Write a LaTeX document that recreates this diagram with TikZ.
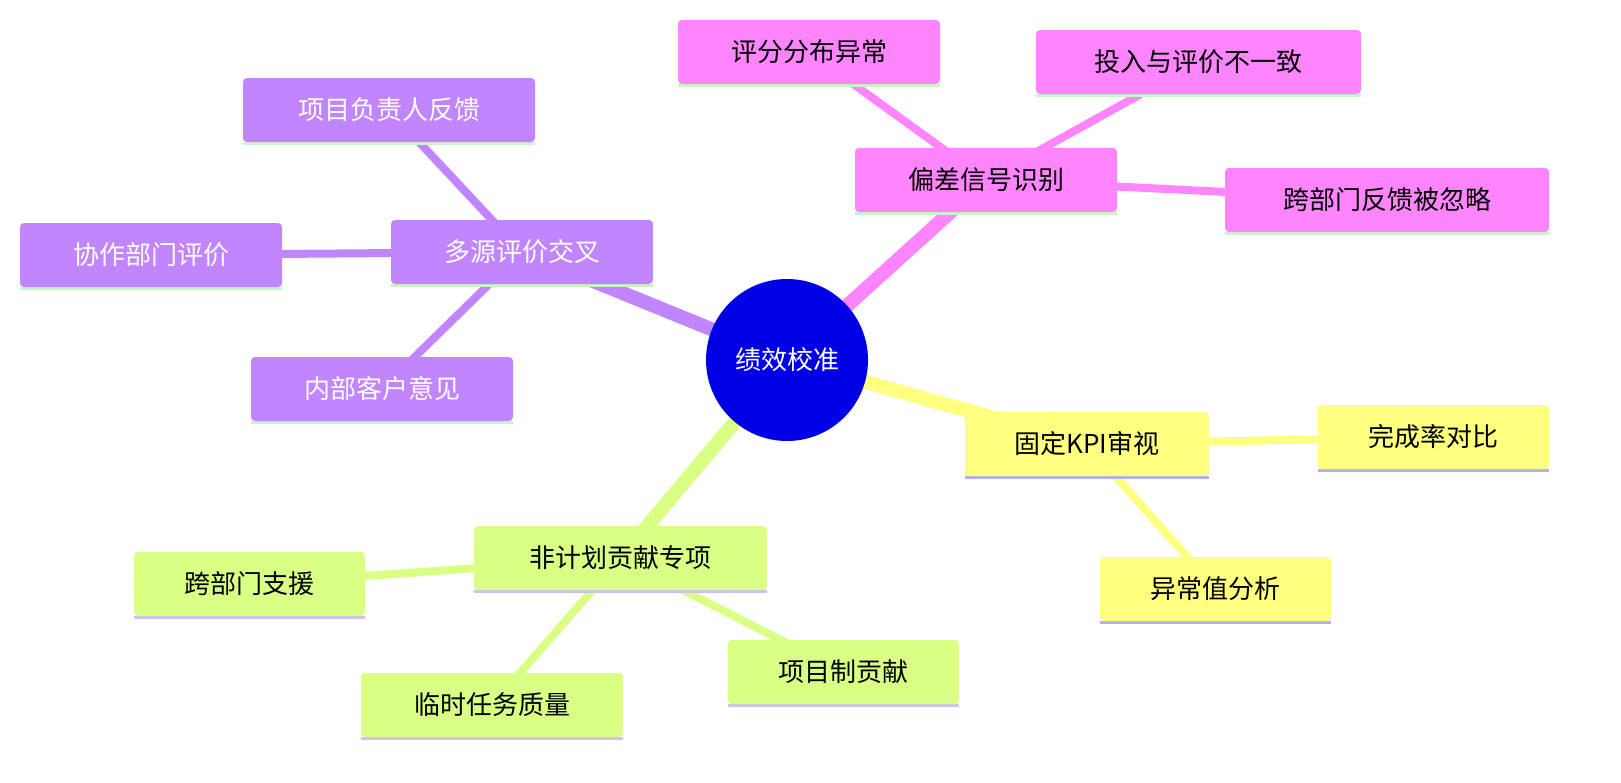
\documentclass[tikz,border=0pt]{standalone}
\usepackage{fontspec}
\newfontfamily\cjk{Noto Sans CJK SC}
\usetikzlibrary{backgrounds}
\definecolor{pk}{HTML}{FF85FF}
\definecolor{pu}{HTML}{C185FF}
\definecolor{ye}{HTML}{FFFF80}
\definecolor{gr}{HTML}{D9FF85}
\definecolor{ulg}{HTML}{C8F5C8}
\definecolor{ulb}{HTML}{B0B0F0}
\definecolor{ulp}{HTML}{D0C0F0}
\definecolor{rt}{HTML}{0000E6}
\tikzset{x=1pt,y=-1pt,
 bx/.style={rounded corners=4pt,inner sep=0,font=\cjk\fontsize{26}{26}\selectfont},
 ul/.style={line width=3pt}}
\newcommand\bnode[7]{% name, x1,y1,x2,y2, fill, text
 \fill[#6,rounded corners=4pt] (#2,#3) rectangle (#4,#5);
 \node[bx] (#1) at ({(#2+#4)/2},{(#3+#5)/2}) {#7};}
\begin{document}
\begin{tikzpicture}
\node[circle,fill=rt,minimum size=162pt,inner sep=0,text=white,font=\cjk\fontsize{26}{26}\selectfont] (root) at (787,360) {绩效校准};
% underlines
\draw[ul,ulg] (855,213)--(1117,213) (678,85)--(940,85) (1036,95)--(1361,95) (1225,233)--(1549,233)
 (391,285)--(653,285) (243,143)--(535,143) (20,288)--(282,288) (251,422)--(513,422);
\draw[ul,ulb] (965,477)--(1209,477) (1318,470)--(1549,470) (1100,622)--(1331,622);
\draw[ul,ulp] (474,591)--(767,591) (134,617)--(365,617) (361,738)--(623,738) (728,705)--(959,705);
% nodes
\bnode{a}{855}{148}{1117}{212}{pk}{偏差信号识别}
\bnode{a1}{678}{20}{940}{84}{pk}{评分分布异常}
\bnode{a2}{1036}{30}{1361}{94}{pk}{投入与评价不一致}
\bnode{a3}{1225}{168}{1549}{232}{pk}{跨部门反馈被忽略}
\bnode{b}{391}{220}{653}{284}{pu}{\color{white}多源评价交叉}
\bnode{b1}{243}{78}{535}{142}{pu}{\color{white}项目负责人反馈}
\bnode{b2}{20}{223}{282}{287}{pu}{\color{white}协作部门评价}
\bnode{b3}{251}{357}{513}{421}{pu}{\color{white}内部客户意见}
\bnode{c}{965}{412}{1209}{476}{ye}{固定KPI审视}
\bnode{c1}{1318}{405}{1549}{469}{ye}{完成率对比}
\bnode{c2}{1100}{557}{1331}{621}{ye}{异常值分析}
\bnode{d}{474}{526}{767}{590}{gr}{非计划贡献专项}
\bnode{d1}{134}{552}{365}{616}{gr}{跨部门支援}
\bnode{d2}{361}{673}{623}{737}{gr}{临时任务质量}
\bnode{d3}{728}{640}{959}{704}{gr}{项目制贡献}
\begin{scope}[on background layer]
\fill[white] (0,0) rectangle (1621,782);
\draw[pk,line width=14pt] (root.center)--(a.center);
\draw[pu,line width=14pt] (root.center)--(b.center);
\draw[ye,line width=14pt] (root.center)--(c.center);
\draw[gr,line width=14pt] (root.center)--(d.center);
\draw[pk,line width=8pt] (a.center)--(a1.center) (a.center)--(a2.center) (a.center)--(a3.center);
\draw[pu,line width=8pt] (b.center)--(b1.center) (b.center)--(b2.center) (b.center)--(b3.center);
\draw[ye,line width=8pt] (c.center)--(c1.center) (c.center)--(c2.center);
\draw[gr,line width=8pt] (d.center)--(d1.center) (d.center)--(d2.center) (d.center)--(d3.center);
\end{scope}
\pgfresetboundingbox
\useasboundingbox (0,0) rectangle (1621,782);
\end{tikzpicture}
\end{document}
